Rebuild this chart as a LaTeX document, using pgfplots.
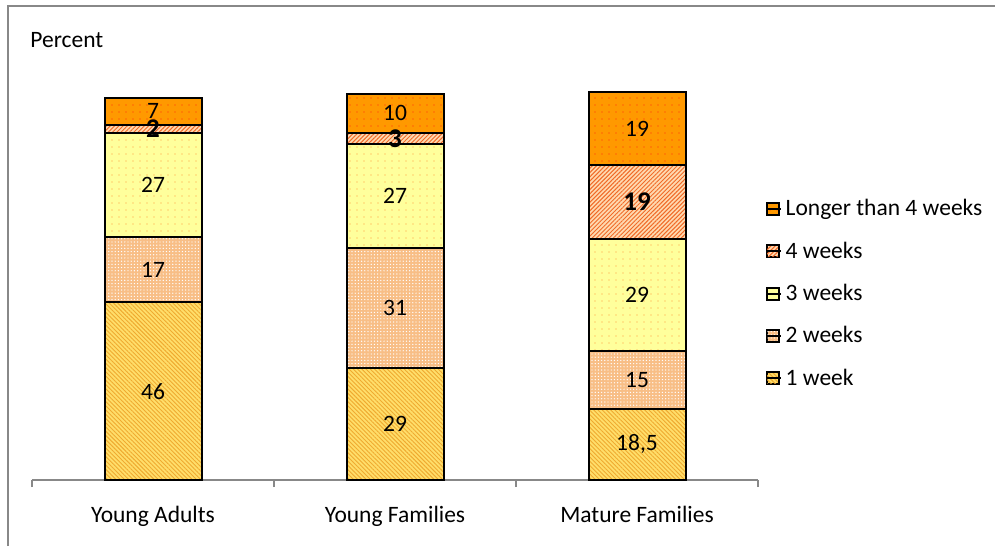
\documentclass[border=0pt]{standalone}
\usepackage{pgfplots}
\pgfplotsset{compat=1.18}
\usepackage{pgfplotstable}
\usepackage{fontspec}
\setmainfont{Carlito}
\usetikzlibrary{patterns.meta}

\definecolor{wkA}{HTML}{FFDE6A}
\definecolor{wkAline}{HTML}{EFAA30}
\definecolor{wkB}{HTML}{F8BE86}
\definecolor{wkC}{HTML}{FFFF9C}
\definecolor{wkCdot}{HTML}{FF9A3C}
\definecolor{wkD}{HTML}{FFD9B0}
\definecolor{wkDline}{HTML}{F06A28}
\definecolor{wkE}{HTML}{FF9900}
\definecolor{wkEdot}{HTML}{FF2A10}
\definecolor{frame}{HTML}{888888}

\newcommand{\chartfont}{\fontsize{11.75}{14}\selectfont}
\newcommand{\boldlabelfont}{\fontsize{13.5}{16}\selectfont\bfseries}

% holiday length shares (percent) by household type
\pgfplotstableread{
x week1 week2 week3 week4 longer
0 46   17 27 2  7
1 29   31 27 3  10
2 18.5 15 29 19 19
}\holidays

\begin{document}
\begin{tikzpicture}
\useasboundingbox (-16pt,-33pt) rectangle (481.5pt,240pt);
\draw[frame, line width=0.75pt] (-12pt,-33pt) -- (-12pt,237pt) -- (481.5pt,237pt);
\node[anchor=west, font=\chartfont, inner sep=0pt] at (-1pt,220pt) {Percent};
\begin{axis}[
  at={(0pt,0pt)}, anchor=south west,
  x=121pt, y=1.93pt,
  xmin=-0.5, xmax=2.5, ymin=0, ymax=110,
  ybar stacked, bar width=48.5pt,
  axis x line*=bottom, axis y line=none,
  axis line style={frame, line width=0.6pt},
  xtick={0,1,2},
  xticklabels={Young Adults, Young Families, Mature Families},
  major tick length=0pt,
  minor xtick={-0.5,0.5,1.5,2.5},
  minor tick length=3.5pt,
  tick align=outside,
  minor tick style={frame, line width=0.6pt},
  xticklabel style={font=\chartfont, anchor=base, yshift=-21pt},
  /pgf/number format/assume math mode=true,
  /pgf/number format/use comma,
  visualization depends on={rawy \as \rawy},
  nodes near coords={\pgfmathprintnumber{\rawy}},
  every node near coord/.append style={anchor=center, font=\chartfont, text=black},
  reverse legend,
  legend style={draw=none, fill=none, at={(1.010,0.671)}, anchor=north west,
    font=\chartfont, row sep=7.5pt, inner sep=0pt},
  legend cell align=left,
  legend image code/.code={\draw[#1, line width=0.8pt] (0pt,-3pt) rectangle (6pt,3pt); \path (0pt,0pt) -- (7pt,0pt);},
]
\addplot[draw=black, line width=1pt, preaction={fill=wkA},
  pattern={Lines[angle=-45,distance=1.5pt,line width=0.45pt]}, pattern color=wkAline]
  table[x=x, y=week1] {\holidays};
\addlegendentry{1 week}
\addplot[draw=black, line width=1pt, preaction={fill=wkB},
  pattern={Dots[distance=1.6pt,radius=0.35pt]}, pattern color=white]
  table[x=x, y=week2] {\holidays};
\addlegendentry{2 weeks}
\addplot[draw=black, line width=1pt, preaction={fill=wkC},
  pattern={Dots[distance=3.5pt,radius=0.35pt]}, pattern color=wkCdot]
  table[x=x, y=week3] {\holidays};
\addlegendentry{3 weeks}
\addplot[draw=black, line width=1pt, preaction={fill=wkD},
  pattern={Lines[angle=45,distance=1.5pt,line width=0.5pt]}, pattern color=wkDline,
  every node near coord/.append style={font=\boldlabelfont}]
  table[x=x, y=week4] {\holidays};
\addlegendentry{4 weeks}
\addplot[draw=black, line width=1pt, preaction={fill=wkE},
  pattern={Dots[distance=3.5pt,radius=0.35pt]}, pattern color=wkEdot]
  table[x=x, y=longer] {\holidays};
\addlegendentry{Longer than 4 weeks}
\end{axis}
\end{tikzpicture}
\end{document}
